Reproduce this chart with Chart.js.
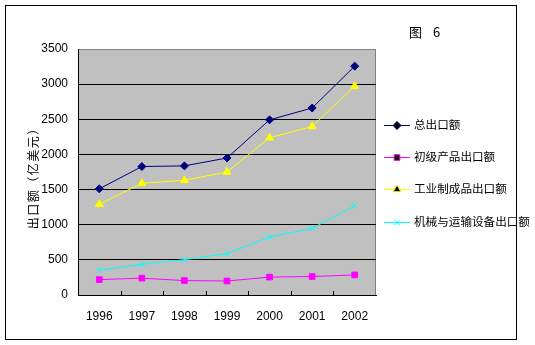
<!DOCTYPE html>
<html>
<head>
<meta charset="utf-8">
<script src="https://cdn.jsdelivr.net/npm/chart.js@4/dist/chart.umd.min.js"></script>
<style>
  html, body { margin: 0; padding: 0; background: #fff; }
  #wrap { width: 535px; height: 345px; }
</style>
</head>
<body>
<div id="wrap"><canvas id="exports-chart" width="535" height="345"></canvas></div>
<script>
var years = ["1996", "1997", "1998", "1999", "2000", "2001", "2002"];
var totalExports = [1510.5, 1827.9, 1837.1, 1949.3, 2492.0, 2661.0, 3256.0];
var primaryExports = [219.3, 239.5, 204.9, 199.4, 254.6, 263.4, 285.4];
var manufacturedExports = [1291.2, 1588.4, 1632.2, 1749.9, 2237.4, 2397.6, 2970.6];
var machineryExports = [353.1, 437.1, 502.2, 588.4, 826.0, 949.0, 1269.8];
var seriesNames = ["总出口额", "初级产品出口额", "工业制成品出口额", "机械与运输设备出口额"];
var yTicks = [0, 500, 1000, 1500, 2000, 2500, 3000, 3500];
var yTitle = "出口额（亿美元）";

var CJK = "'Noto Sans CJK SC', sans-serif";
var NUM = "'Liberation Sans', Arial, sans-serif";

function makeSeries(label, data, color, style, radius) {
  return {
    label: label,
    data: data,
    borderColor: color,
    backgroundColor: color,
    borderWidth: 1,
    pointStyle: style,
    pointRadius: radius,
    pointHoverRadius: radius,
    pointBorderWidth: 1,
    tension: 0,
  };
}

// plot background, frame, caption, axis title, legend and inner ticks
var decorPlugin = {
  id: "decor",
  beforeDraw: function (chart) {
    var ctx = chart.ctx;
    var a = chart.chartArea;
    ctx.save();
    ctx.fillStyle = "#fff";
    ctx.fillRect(0, 0, chart.width, chart.height);
    ctx.fillStyle = "#c0c0c0";
    ctx.fillRect(a.left, a.top, a.right - a.left, a.bottom - a.top);
    ctx.strokeStyle = "#808080";
    ctx.lineWidth = 1;
    ctx.strokeRect(a.left + 0.5, a.top + 0.5, a.right - a.left - 1, a.bottom - a.top);
    ctx.restore();
  },
  afterDraw: function (chart) {
    var ctx = chart.ctx;
    var a = chart.chartArea;
    var xs = chart.scales.x;
    ctx.save();

    // outer frame
    ctx.strokeStyle = "#000";
    ctx.lineWidth = 1;
    ctx.strokeRect(5.5, 5.5, 511, 334);

    // category tick marks pointing into the plot
    ctx.beginPath();
    for (var i = 1; i < years.length; i++) {
      var tx = Math.round(xs.getPixelForValue(i - 0.5)) + 0.5;
      ctx.moveTo(tx, a.bottom);
      ctx.lineTo(tx, a.bottom - 4);
    }
    ctx.stroke();

    // caption
    ctx.fillStyle = "#000";
    ctx.font = "13px " + CJK;
    ctx.textBaseline = "middle";
    ctx.textAlign = "left";
    ctx.fillText("图", 409, 32);
    ctx.fillText("6", 433, 32);

    // y axis title, one glyph per step, reading bottom to top
    ctx.save();
    ctx.translate(33, 176);
    ctx.rotate(-Math.PI / 2);
    ctx.textAlign = "center";
    ctx.font = "12px " + CJK;
    var step = 13.5;
    var chars = Array.from(yTitle);
    var start = -step * (chars.length - 1) / 2;
    chars.forEach(function (ch, k) {
      ctx.fillText(ch, start + k * step, 0);
    });
    ctx.restore();

    // legend
    var rowsY = [125, 157, 189, 222];
    chart.data.datasets.forEach(function (ds, k) {
      var y = rowsY[k];
      ctx.strokeStyle = ds.borderColor;
      ctx.lineWidth = 1;
      ctx.beginPath();
      ctx.moveTo(384, y + 0.5);
      ctx.lineTo(410, y + 0.5);
      ctx.stroke();
      Chart.helpers.drawPoint(ctx, {
        pointStyle: ds.pointStyle,
        radius: ds.pointRadius,
        borderWidth: 1,
        rotation: 0,
      }, 397, y + 0.5);
      ctx.fillStyle = "#000";
      ctx.font = "11.6px " + CJK;
      ctx.textAlign = "left";
      ctx.fillText(ds.label, 414, y);
    });
    ctx.restore();
  },
};

new Chart(document.getElementById("exports-chart"), {
  type: "line",
  data: {
    labels: years,
    datasets: [
      makeSeries(seriesNames[0], totalExports, "#000080", "rectRot", 4),
      makeSeries(seriesNames[1], primaryExports, "#ff00ff", "rect", 4),
      makeSeries(seriesNames[2], manufacturedExports, "#ffff00", "triangle", 4.5),
      makeSeries(seriesNames[3], machineryExports, "#00ffff", "crossRot", 4),
    ],
  },
  options: {
    responsive: false,
    animation: false,
    devicePixelRatio: 1,
    layout: { padding: { left: 0, top: 49, right: 159, bottom: 0 } },
    plugins: {
      legend: { display: false },
      tooltip: { enabled: false },
    },
    scales: {
      x: {
        offset: true,
        grid: { display: false, drawTicks: false },
        border: { display: true, color: "#000", width: 1 },
        ticks: {
          color: "#000",
          padding: 14,
          maxRotation: 0,
          font: { family: NUM, size: 12 },
        },
        afterFit: function (scale) { scale.height = 50; },
      },
      y: {
        min: 0,
        max: 3500,
        afterBuildTicks: function (scale) {
          scale.ticks = yTicks.map(function (v) { return { value: v }; });
        },
        grid: {
          drawTicks: false,
          color: function (c) {
            return c.tick && c.tick.value === 3500 ? "rgba(0,0,0,0)" : "#000";
          },
          lineWidth: 1,
        },
        border: { display: true, color: "#000", width: 1 },
        ticks: {
          color: "#000",
          padding: 10,
          font: { family: NUM, size: 12 },
          callback: function (v) { return String(v); },
        },
        afterFit: function (scale) { scale.width = 78; },
      },
    },
  },
  plugins: [decorPlugin],
});
</script>
</body>
</html>
